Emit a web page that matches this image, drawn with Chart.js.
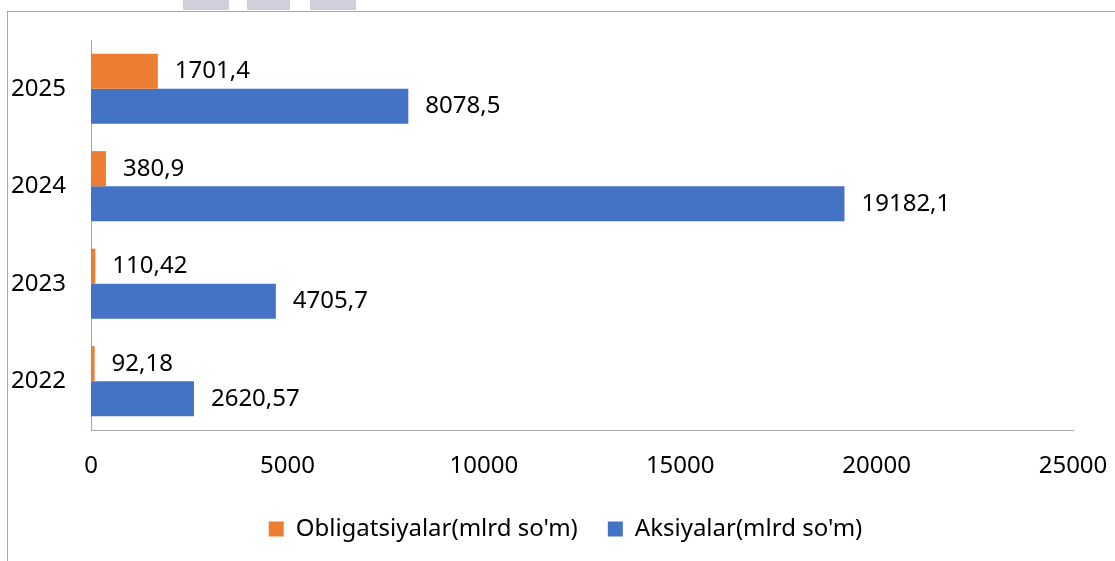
<!DOCTYPE html>
<html>
<head>
<meta charset="utf-8">
<script src="https://cdn.jsdelivr.net/npm/chart.js@4.4.1/dist/chart.umd.min.js"></script>
<style>
    html, body { margin: 0; padding: 0; background: #fff; overflow: hidden; }
    body { width: 1115px; height: 561px; position: relative; }
    .frame { position: absolute; left: 7px; top: 11px; width: 1200px; height: 600px; border: 1px solid #a6a6a6; box-sizing: border-box; }
    .strip { position: absolute; top: 0; height: 10px; background: #d0d0dc; }
    #wrap { position: absolute; left: 0; top: 0; width: 1115px; height: 551px; }
</style>
</head>
<body>
<div class="strip" style="left:183px;width:46px"></div>
<div class="strip" style="left:247px;width:43px"></div>
<div class="strip" style="left:310px;width:46px"></div>
<div class="frame"></div>
<div id="wrap"><canvas id="chart"></canvas></div>
<script>
    "use strict";

    // Data
    var years = ["2025", "2024", "2023", "2022"];
    var obligatsiyalar = [1701.4, 380.9, 110.42, 92.18];
    var aksiyalar = [8078.5, 19182.1, 4705.7, 2620.57];
    var xTicks = [0, 5000, 10000, 15000, 20000, 25000];

    var FONT = "'Noto Sans', sans-serif";
    Chart.defaults.color = "#000";
    Chart.defaults.font.family = FONT;

    // Value labels at the end of each bar
    var valueLabels = {
        id: "valueLabels",
        afterDatasetsDraw: function (chart) {
            var ctx = chart.ctx;
            ctx.save();
            ctx.font = "24px " + FONT;
            ctx.fillStyle = "#000";
            ctx.textAlign = "left";
            ctx.textBaseline = "middle";
            chart.data.datasets.forEach(function (ds, i) {
                chart.getDatasetMeta(i).data.forEach(function (bar, j) {
                    var txt = String(ds.data[j]).replace(".", ",");
                    ctx.fillText(txt, bar.x + 17, bar.y);
                });
            });
            ctx.restore();
        }
    };

    // Legend sits a little right of the canvas centre
    var legendShift = {
        id: "legendShift",
        afterLayout: function (chart) {
            chart.legend.left += 29;
            chart.legend.right += 29;
        }
    };

    var ctx = document.getElementById("chart").getContext("2d");
    var myChart = new Chart(ctx, {
        type: "bar",
        data: {
            labels: years,
            datasets: [{
                    label: "Obligatsiyalar(mlrd so'm)",
                    data: obligatsiyalar,
                    backgroundColor: "#ED7D31"
                },
                {
                    label: "Aksiyalar(mlrd so'm)",
                    data: aksiyalar,
                    backgroundColor: "#4472C4"
                }
            ]
        },
        options: {
            indexAxis: "y",
            responsive: true,
            maintainAspectRatio: false,
            animation: false,
            datasets: {
                bar: { categoryPercentage: 0.72, barPercentage: 1.0 }
            },
            layout: {
                padding: { top: 40, right: 42, left: 0, bottom: 0 }
            },
            scales: {
                x: {
                    min: 0,
                    max: 25000,
                    afterBuildTicks: function (scale) {
                        scale.ticks = xTicks.map(function (v) { return { value: v }; });
                    },
                    afterFit: function (scale) {
                        scale.height = 57;
                        scale.paddingRight = 0;
                        scale.paddingLeft = 0;
                    },
                    grid: { display: false, drawTicks: false },
                    border: { display: true, color: "#a6a6a6", width: 1 },
                    ticks: {
                        padding: 22,
                        font: { size: 24 },
                        maxRotation: 0,
                        callback: function (v) { return String(v); }
                    }
                },
                y: {
                    afterFit: function (scale) { scale.width = 91; },
                    grid: { display: false, drawTicks: false },
                    border: { display: true, color: "#a6a6a6", width: 1 },
                    ticks: { padding: 25, font: { size: 24 } }
                }
            },
            plugins: {
                legend: {
                    position: "bottom",
                    labels: {
                        boxWidth: 15,
                        boxHeight: 15,
                        padding: 30,
                        font: { size: 24 },
                        color: "#000"
                    }
                },
                tooltip: { enabled: false }
            }
        },
        plugins: [valueLabels, legendShift]
    });
</script>
</body>
</html>
